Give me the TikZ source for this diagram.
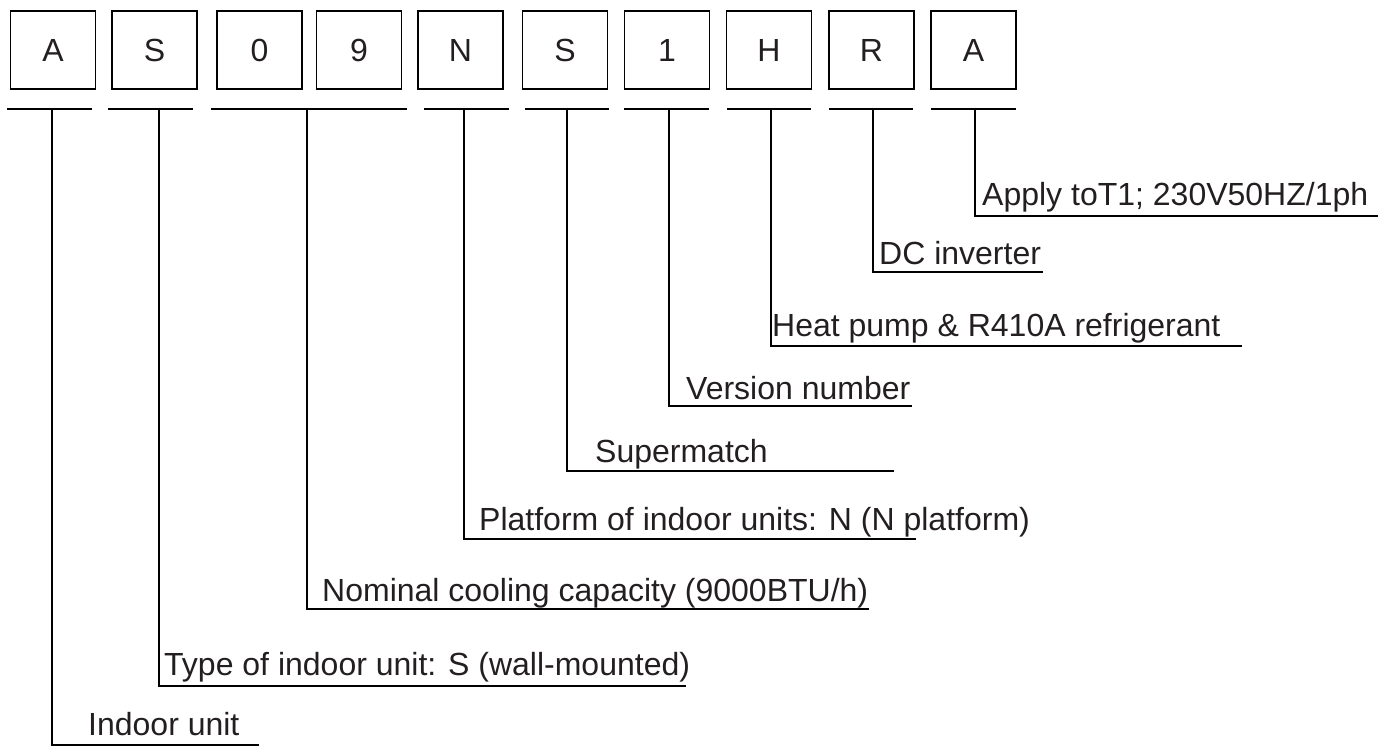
\documentclass[tikz,border=0pt]{standalone}
\usepackage{fontspec}
\setmainfont{Liberation Sans}
\definecolor{txt}{HTML}{231F20}
\begin{document}
\begin{tikzpicture}[x=1pt,y=-1pt,
  every node/.style={font=\fontsize{32}{38}\selectfont, text=txt},
  codebox/.style={draw=black, line width=1.8pt, minimum width=85pt, minimum height=78pt, inner sep=0pt},
  rule/.style={draw=black, line width=1.8pt},
  lbl/.style={anchor=base west, inner sep=0pt},
]
\useasboundingbox (0,0) rectangle (1378,746);
% code boxes
\node[codebox] (b1) at (53,50) {A};
\node[codebox] (b2) at (154.5,50) {S};
\node[codebox] (b3) at (259.5,50) {0};
\node[codebox] (b4) at (359,50) {9};
\node[codebox] (b5) at (460.5,50) {N};
\node[codebox] (b6) at (565,50) {S};
\node[codebox] (b7) at (667,50) {1};
\node[codebox] (b8) at (769,50) {H};
\node[codebox] (b9) at (871.5,50) {R};
\node[codebox] (b10) at (973.5,50) {A};
% underlines
\coordinate (u1a) at (7,109);   \coordinate (u1b) at (92,109);
\coordinate (u2a) at (108,109); \coordinate (u2b) at (193,109);
\coordinate (u3a) at (211,109); \coordinate (u3b) at (407,109);
\coordinate (u4a) at (424,109); \coordinate (u4b) at (509,109);
\coordinate (u5a) at (525,109); \coordinate (u5b) at (609,109);
\coordinate (u6a) at (624,109); \coordinate (u6b) at (709,109);
\coordinate (u7a) at (727,109); \coordinate (u7b) at (811,109);
\coordinate (u8a) at (829,109); \coordinate (u8b) at (913,109);
\coordinate (u9a) at (931,109); \coordinate (u9b) at (1016,109);
\foreach \i in {1,...,9} {\draw[rule] (u\i a) -- (u\i b);}
% stems
\coordinate (s1) at (52,109);
\coordinate (s2) at (159,109);
\coordinate (s3) at (307,109);
\coordinate (s4) at (464,109);
\coordinate (s5) at (567,109);
\coordinate (s6) at (669,109);
\coordinate (s7) at (771,109);
\coordinate (s8) at (873,109);
\coordinate (s9) at (975,109);
% line ends
\coordinate (e1) at (259,745);
\coordinate (e2) at (686,686);
\coordinate (e3) at (869,609);
\coordinate (e4) at (916,539);
\coordinate (e5) at (894,471);
\coordinate (e6) at (912,406);
\coordinate (e7) at (1242,346);
\coordinate (e8) at (1043,272);
\coordinate (e9) at (1378,216);
\foreach \i in {1,...,9} {\draw[rule] (s\i) |- (e\i);}
% labels
\node[lbl] (t1) at (88,735) {Indoor unit};
\node[lbl] (t2) at (164,675) {Type of indoor unit: S (wall-mounted)};
\node[lbl] (t3) at (322,601) {Nominal cooling capacity (9000BTU/h)};
\node[lbl] (t4) at (479,530) {Platform of indoor units: N (N platform)};
\node[lbl] (t5) at (595,462) {Supermatch};
\node[lbl] (t6) at (686,399) {Version number};
\node[lbl] (t7) at (772,336) {Heat pump \& R410A refrigerant};
\node[lbl] (t8) at (879,264) {DC inverter};
\node[lbl] (t9) at (982,205) {Apply toT1; 230V50HZ/1ph};
\end{tikzpicture}
\end{document}
